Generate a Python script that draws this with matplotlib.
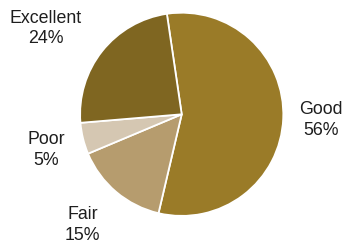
import matplotlib
matplotlib.use("Agg")
import matplotlib.pyplot as plt

categories = ["Good", "Fair", "Poor", "Excellent"]
values = [56, 15, 5, 24]
colors = ["#9a7b28", "#b69c6e", "#d5c7b2", "#7f6621"]

W, H = 343, 249
fig = plt.figure(figsize=(W / 100, H / 100), dpi=100)
ax = fig.add_axes([0, 0, 1, 1])

cx, cy, R = 181.7, 114.3, 101.6

wedges, _ = ax.pie(values, colors=colors, startangle=98.4, counterclock=False,
                   radius=1.0, wedgeprops=dict(edgecolor="white", linewidth=1.3))
ax.set_aspect("auto")
ax.set_xlim(-cx / R, (W - cx) / R)
ax.set_ylim(-(H - cy) / R, cy / R)
ax.axis("off")

# label centers in pixels
label_px = {"Good": (321, 120), "Fair": (82.5, 225), "Poor": (46.5, 150), "Excellent": (46, 28.5)}
for cat, v in zip(categories, values):
    px, py = label_px[cat]
    ax.text((px - cx) / R, (cy - py) / R, f"{cat}\n{v}%", ha="center", va="center",
            fontsize=12.8, color="#1e1e1e", family=["Liberation Sans", "DejaVu Sans"],
            linespacing=1.28)

fig.savefig("out.png", dpi=100)
